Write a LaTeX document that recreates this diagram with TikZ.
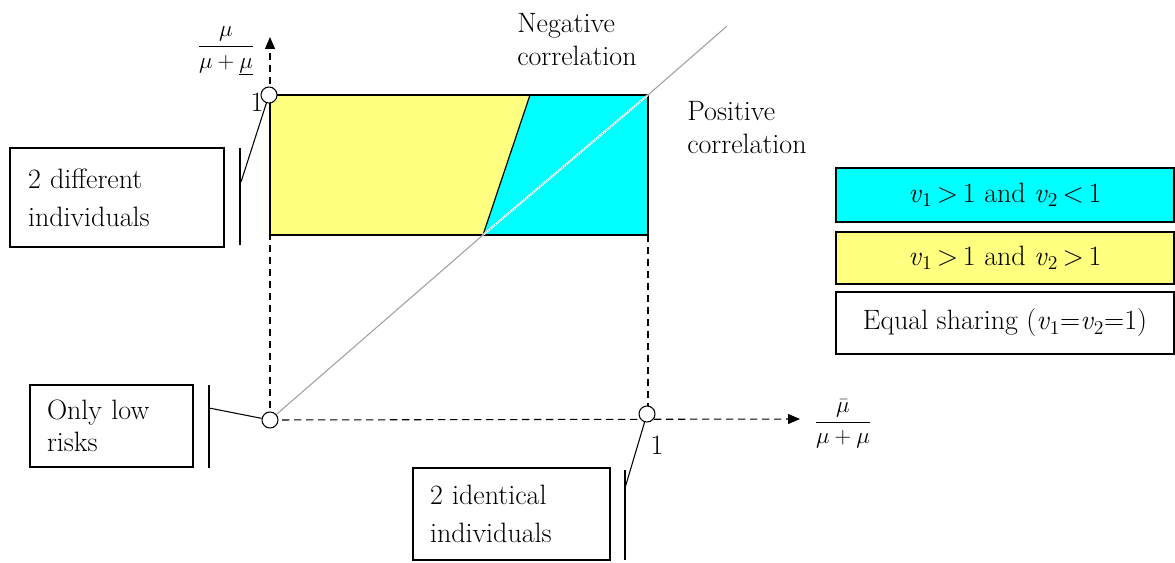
\documentclass[tikz,border=0pt]{standalone}
\usetikzlibrary{arrows.meta}
\definecolor{lyellow}{HTML}{FFFF80}
\definecolor{lcyan}{HTML}{00FFFF}
\definecolor{diag}{HTML}{A0A0A0}
\begin{document}
\begin{tikzpicture}[x=0.75pt,y=-0.75pt,
  font=\rmfamily\fontsize{21}{28.5}\selectfont,
  dot/.style={circle,draw,fill=white,inner sep=0pt,minimum size=12pt,line width=0.8pt},
  axisline/.style={dashed,dash pattern=on 5.5pt off 3.5pt,line width=0.8pt},
  tipstyle/.style={-{Triangle[length=9pt,width=7.5pt]}},
  txtbox/.style={draw,line width=0.8pt,align=left,inner ysep=0pt},
  legbox/.style={draw,line width=0.8pt,align=center,minimum width=253.5pt,inner sep=0pt},
  lead/.style={line width=0.8pt},
  plain/.style={align=left,inner sep=0pt}]
\useasboundingbox (0,0) rectangle (1175,563);

% coordinates
\coordinate (ytip) at (270,37);
\coordinate (xtip) at (800,419);
\coordinate (P) at (483,235);
\coordinate (Q) at (648,95);
\coordinate (S) at (530,95);
\coordinate (dend) at (727,26);

% axes
\node[dot,draw=none,fill=none] (Oc) at (270,420) {};
\draw[axisline,tipstyle] (Oc.center) -- (ytip);
\draw[axisline,tipstyle] (Oc.center) -- (xtip);
\draw[axisline] (648,235) -- (648,419);

% regions
\fill[lyellow] (270,95) -- (S) -- (P) -- (270,235) -- cycle;
\fill[lcyan] (S) -- (Q) -- (648,235) -- (P) -- cycle;
\draw[line width=0.9pt] (270,95) rectangle (648,235);
\draw[line width=0.9pt] (S) -- (P);

% diagonal
\draw[diag,line width=0.8pt] (Oc.center) -- (P);
\draw[white,line width=1.4pt] (P) -- (Q);
\draw[gray!70,line width=0.7pt,densely dotted] (P) -- (Q);
\draw[diag,line width=0.8pt] (Q) -- (dend);

% points
\node[dot] (O) at (270,420) {};
\node[dot] (T) at (269,95) {};
\node[dot] (R) at (647,414) {};

% axis labels
\node[inner sep=0pt,font=\fontsize{19}{24}\selectfont] (ylab) at (226,51) {$\displaystyle\frac{\mu}{\mu+\underline{\mu}}$};
\node[inner sep=0pt,font=\fontsize{19}{24}\selectfont] (xlab) at (843,424) {$\displaystyle\frac{\bar{\mu}}{\mu+\mu}$};
\node[inner sep=0pt] (one1) at (257,102) {1};
\node[inner sep=0pt] (one2) at (657,445) {1};

% correlation labels
\node[plain,font=\rmfamily\fontsize{21}{24.75}\selectfont,anchor=north west] (neg) at (517,13) {Negative\\correlation};
\node[plain,font=\rmfamily\fontsize{21}{24.75}\selectfont,anchor=north west] (pos) at (687,101) {Positive\\correlation};

% legend
\node[legbox,fill=lcyan,minimum height=40.5pt] (L1) at (1005,195) {\textit{v}\textsubscript{1}\,>\,1 and \textit{v}\textsubscript{2}\,<\,1};
\node[legbox,fill=lyellow,minimum height=39pt] (L2) at (1005,258) {\textit{v}\textsubscript{1}\,>\,1 and \textit{v}\textsubscript{2}\,>\,1};
\node[legbox,fill=white,minimum height=46.5pt] (L3) at (1005,323) {Equal sharing (\textit{v}\textsubscript{1}=\textit{v}\textsubscript{2}=1)};

% annotation boxes
\node[txtbox,minimum width=160.5pt,minimum height=74.25pt,text width=133.5pt,inner xsep=13.5pt] (B1) at (117,197.5) {2 different\\individuals};
\node[txtbox,minimum width=122.25pt,minimum height=61.5pt,text width=96.75pt,inner xsep=12.75pt,font=\rmfamily\fontsize{21}{24}\selectfont] (B2) at (111.5,426) {Only low\\risks};
\node[txtbox,minimum width=147.75pt,minimum height=69pt,text width=122.25pt,inner xsep=12.75pt] (B3) at (511.5,514) {2 identical\\individuals};

% bars and leaders
\coordinate (b1t) at (240,148); \coordinate (b1b) at (240,245); \coordinate (b1c) at (241,182);
\coordinate (b2t) at (209,385); \coordinate (b2b) at (209,468); \coordinate (b2c) at (209,408);
\coordinate (b3t) at (625,470); \coordinate (b3b) at (625,560); \coordinate (b3c) at (625,488);
\draw[lead] (b1t) -- (b1b);
\draw[lead] (b2t) -- (b2b);
\draw[lead] (b3t) -- (b3b);
\draw[lead] (b1c) -- (T);
\draw[lead] (b2c) -- (O);
\draw[lead] (b3c) -- (R);
\end{tikzpicture}
\end{document}
